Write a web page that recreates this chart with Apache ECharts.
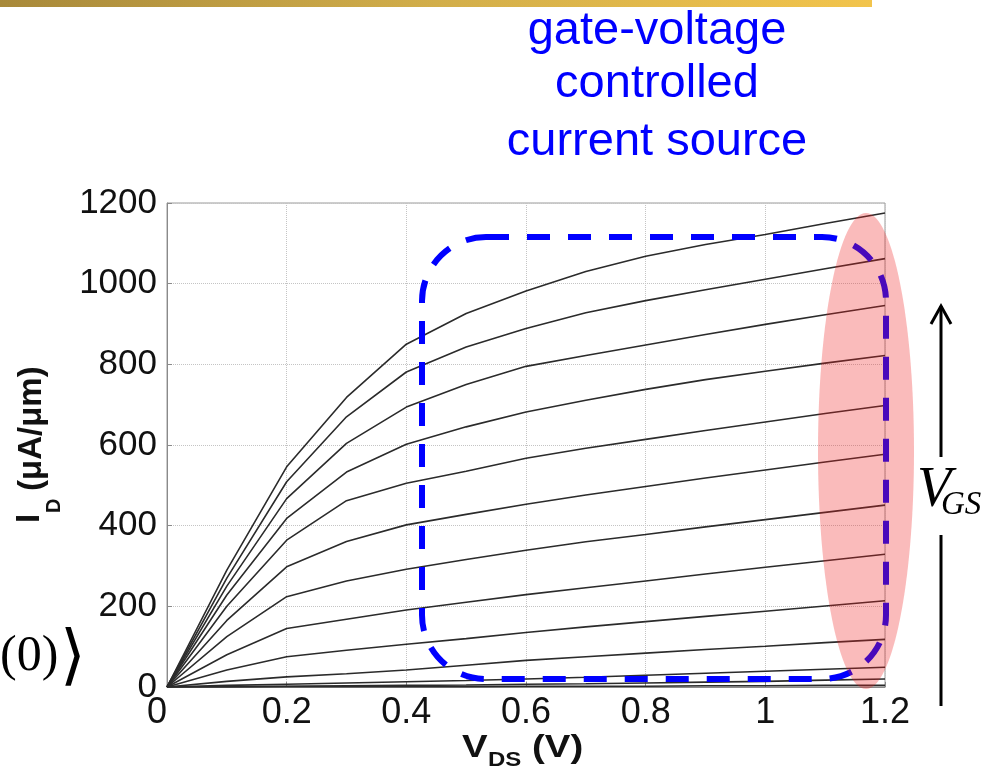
<!DOCTYPE html>
<html>
<head>
<meta charset="utf-8">
<script src="https://cdn.jsdelivr.net/npm/echarts@6/dist/echarts.min.js"></script>
<style>
html,body{margin:0;padding:0;background:#fff;}
#c{width:983px;height:773px;}
</style>
</head>
<body>
<div id="c"></div>
<script>
// V_DS sample points (V)
const vds = [0, 0.1, 0.2, 0.3, 0.4, 0.5, 0.6, 0.7, 0.8, 0.9, 1.0, 1.1, 1.2];
// I_D (uA/um) curves, highest V_GS first
const idCurve1  = [0, 290, 546, 718, 850, 926, 982, 1030, 1068, 1097, 1122, 1149, 1175];
const idCurve2  = [0, 270, 509, 670, 781, 843, 889, 928, 958, 985, 1011, 1037, 1062];
const idCurve3  = [0, 250, 467, 604, 694, 750, 795, 822, 848, 874, 899, 923, 946];
const idCurve4  = [0, 228, 418, 533, 602, 645, 682, 711, 738, 762, 783, 803, 822];
const idCurve5  = [0, 200, 364, 462, 505, 535, 567, 592, 614, 636, 657, 678, 698];
const idCurve6  = [0, 165, 298, 361, 402, 428, 453, 476, 497, 518, 538, 558, 577];
const idCurve7  = [0, 125, 224, 263, 292, 316, 339, 360, 378, 397, 415, 433, 451];
const idCurve8  = [0, 80, 145, 168, 191, 210, 229, 246, 263, 280, 297, 313, 329];
const idCurve9  = [0, 42, 75, 91, 106, 120, 135, 149, 162, 175, 188, 201, 214];
const idCurve10 = [0, 14, 25, 33, 42, 54, 66, 75, 84, 93, 101, 110, 118];
const idCurve11 = [0, 4, 7, 10, 13, 16, 20, 24, 29, 34, 39, 44, 49];
const idCurve12 = [0, 1, 2, 3, 4, 5, 7, 8, 10, 12, 14, 17, 20];
const idCurve13 = [0, 0, 1, 1, 1, 1, 2, 2, 2, 3, 3, 4, 4];
// axis ticks
const xTicks = { min: 0, max: 1.2, step: 0.2 };
const yTicks = { min: 0, max: 1200, step: 200 };

const curves = [idCurve1, idCurve2, idCurve3, idCurve4, idCurve5, idCurve6, idCurve7,
                idCurve8, idCurve9, idCurve10, idCurve11, idCurve12, idCurve13];

const chart = echarts.init(document.getElementById('c'), null, {renderer: 'canvas', width: 983, height: 773});

const series = curves.map((c, k) => ({
  type: 'line',
  name: 'curve' + (k + 1),
  data: vds.map((v, i) => [v, c[i]]),
  showSymbol: false,
  symbol: 'none',
  lineStyle: { color: '#2b2b2b', width: 1.6 },
  z: 3,
  animation: false
}));

const sans = 'Liberation Sans, Arial, Helvetica, sans-serif';
const serif = 'Liberation Serif, Times New Roman, serif';

chart.setOption({
  backgroundColor: '#ffffff',
  animation: false,
  grid: { left: 167, right: 98, top: 203, bottom: 86, show: true, borderColor: '#9a9a9a', borderWidth: 1, backgroundColor: 'transparent' },
  xAxis: {
    type: 'value', min: xTicks.min, max: xTicks.max, interval: xTicks.step,
    axisLine: { show: true, lineStyle: { color: '#8a8a8a', width: 1 } },
    axisTick: { show: true, inside: true, length: 5, lineStyle: { color: '#8a8a8a' } },
    splitLine: { show: true, lineStyle: { type: 'dotted', color: '#c4c4c4', width: 1 } },
    axisLabel: { color: '#111', fontSize: 36, fontFamily: sans, margin: 8, alignMinLabel: 'right',
      formatter: v => String(Math.round(v * 10) / 10) }
  },
  yAxis: {
    type: 'value', min: yTicks.min, max: yTicks.max, interval: yTicks.step,
    axisLine: { show: true, lineStyle: { color: '#8a8a8a', width: 1 } },
    axisTick: { show: true, inside: true, length: 5, lineStyle: { color: '#8a8a8a' } },
    splitLine: { show: true, lineStyle: { type: 'dotted', color: '#c4c4c4', width: 1 } },
    axisLabel: { color: '#111', fontSize: 35, fontFamily: sans, margin: 10,
      formatter: v => String(Math.round(v)) }
  },
  series: series,
  graphic: [
    // gold header bar
    { type: 'rect', z: 50, shape: { x: 0, y: 0, width: 872, height: 7 },
      style: { fill: new echarts.graphic.LinearGradient(0, 0, 1, 0, [
        { offset: 0, color: '#a8893a' }, { offset: 0.5, color: '#d2ae4a' }, { offset: 1, color: '#f2c44c' }]) } },
    // blue caption
    { type: 'text', z: 50, x: 657, y: 31, style: { text: 'gate-voltage', fill: '#0000ff', fontSize: 47, fontFamily: sans, align: 'center', verticalAlign: 'middle' } },
    { type: 'text', z: 50, x: 657, y: 84, style: { text: 'controlled', fill: '#0000ff', fontSize: 47, fontFamily: sans, align: 'center', verticalAlign: 'middle' } },
    { type: 'text', z: 50, x: 657, y: 142, style: { text: 'current source', fill: '#0000ff', fontSize: 47, fontFamily: sans, align: 'center', verticalAlign: 'middle' } },
    // dashed rounded box
    { type: 'rect', z: 60, shape: { x: 422, y: 237, width: 464, height: 442, r: 64 },
      style: { fill: null, stroke: '#0000ff', lineWidth: 6, lineDash: [23, 18] } },
    // pink ellipse
    { type: 'ellipse', z: 70, shape: { cx: 866, cy: 451, rx: 48, ry: 238 },
      style: { fill: 'rgba(238,30,30,0.3)' } },
    // V_GS arrow
    { type: 'line', z: 50, shape: { x1: 941, y1: 306, x2: 941, y2: 457 }, style: { stroke: '#000', lineWidth: 3 } },
    { type: 'line', z: 50, shape: { x1: 941, y1: 535, x2: 941, y2: 706 }, style: { stroke: '#000', lineWidth: 3 } },
    { type: 'polyline', z: 50, shape: { points: [[931, 324], [941, 306], [951, 324]] }, style: { stroke: '#000', lineWidth: 3, fill: null } },
    { type: 'text', z: 50, x: 917, y: 491, style: { text: 'V', fill: '#000', fontSize: 56, fontStyle: 'italic', fontFamily: serif, align: 'left', verticalAlign: 'middle' } },
    { type: 'text', z: 50, x: 941, y: 505, style: { text: 'GS', fill: '#000', fontSize: 33, fontStyle: 'italic', fontFamily: serif, align: 'left', verticalAlign: 'middle' } },
    // left partial text
    { type: 'text', z: 50, x: 0, y: 657, style: { text: '(0)', fill: '#000', fontSize: 50, fontFamily: serif, align: 'left', verticalAlign: 'middle' } },
    { type: 'text', z: 50, x: 60, y: 660, style: { text: '\u27E9', fill: '#000', fontSize: 66, fontFamily: 'DejaVu Serif, DejaVu Sans', align: 'left', verticalAlign: 'middle' } },
    // x axis name
    { type: 'text', z: 50, x: 462, y: 748, scaleX: 1.2, style: { text: 'V', fill: '#111', fontSize: 32, fontWeight: 'bold', fontFamily: sans, align: 'left', verticalAlign: 'middle' } },
    { type: 'text', z: 50, x: 488, y: 760, scaleX: 1.2, style: { text: 'DS', fill: '#111', fontSize: 20, fontWeight: 'bold', fontFamily: sans, align: 'left', verticalAlign: 'middle' } },
    { type: 'text', z: 50, x: 532, y: 748, scaleX: 1.2, style: { text: '(V)', fill: '#111', fontSize: 32, fontWeight: 'bold', fontFamily: sans, align: 'left', verticalAlign: 'middle' } },
    // y axis name (rotated)
    { type: 'group', z: 50, x: 0, y: 443, rotation: Math.PI / 2, children: [
      { type: 'text', x: -80, y: 30, style: { text: 'I', fill: '#111', fontSize: 33, fontWeight: 'bold', fontFamily: sans, align: 'left', verticalAlign: 'middle' } },
      { type: 'text', x: -70, y: 54, style: { text: 'D', fill: '#111', fontSize: 20, fontWeight: 'bold', fontFamily: sans, align: 'left', verticalAlign: 'middle' } },
      { type: 'text', x: -48, y: 32, style: { text: '(\u03BCA/\u03BCm)', fill: '#111', fontSize: 33, fontWeight: 'bold', fontFamily: sans, align: 'left', verticalAlign: 'middle' } }
    ] }
  ]
});
</script>
</body>
</html>
